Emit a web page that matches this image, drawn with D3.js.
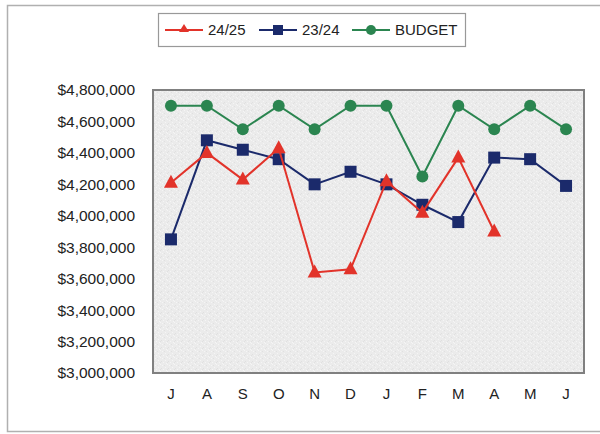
<!DOCTYPE html>
<html>
<head>
<meta charset="utf-8">
<script src="https://cdn.jsdelivr.net/npm/d3@7"></script>
<style>
  body { margin: 0; background: #fff; }
  svg { display: block; font-family: "Liberation Sans", Arial, sans-serif; }
</style>
</head>
<body>
<svg id="chart" width="600" height="434"></svg>
<script>
// data
const months = ["J","A","S","O","N","D","J","F","M","A","M","J"];
const fy2425 = [4210000, 4400000, 4230000, 4430000, 3640000, 3660000, 4220000, 4020000, 4370000, 3900000];
const fy2324 = [3850000, 4480000, 4420000, 4360000, 4200000, 4280000, 4200000, 4070000, 3960000, 4370000, 4360000, 4190000];
const budget = [4700000, 4700000, 4550000, 4700000, 4550000, 4700000, 4700000, 4250000, 4700000, 4550000, 4700000, 4550000];
const yTicks = [3000000, 3200000, 3400000, 3600000, 3800000, 4000000, 4200000, 4400000, 4600000, 4800000];

const series = [
  { name: "24/25", values: fy2425, color: "#e2332a", shape: "tri" },
  { name: "23/24", values: fy2324, color: "#1b2a6b", shape: "sq" },
  { name: "BUDGET", values: budget, color: "#2b8550", shape: "dot" }
];

const svg = d3.select("#chart");
const plot = { left: 153, right: 584, top: 90, bottom: 373 };

// outer frame
svg.append("path")
  .attr("d", "M607,5.5 H7.5 V431.5 H607")
  .attr("fill", "none").attr("stroke", "#b0b0b0").attr("stroke-width", 1.5);

// speckled plot background
const defs = svg.append("defs");
const pat = defs.append("pattern").attr("id", "speck").attr("width", 7).attr("height", 7).attr("patternUnits", "userSpaceOnUse");
pat.append("rect").attr("width", 7).attr("height", 7).attr("fill", "#ebebeb");
[[1,1],[4,3],[2,5],[6,0],[5,6]].forEach(p => pat.append("rect").attr("x", p[0]).attr("y", p[1]).attr("width", 1).attr("height", 1).attr("fill", "#f5f5f5"));
[[3,1],[0,4],[6,5]].forEach(p => pat.append("rect").attr("x", p[0]).attr("y", p[1]).attr("width", 1).attr("height", 1).attr("fill", "#e0e0e0"));

svg.append("rect")
  .attr("x", plot.left).attr("y", plot.top)
  .attr("width", plot.right - plot.left).attr("height", plot.bottom - plot.top)
  .attr("fill", "url(#speck)").attr("stroke", "#808080").attr("stroke-width", 2);

const x = d3.scaleBand().domain(d3.range(months.length)).range([plot.left, plot.right]);
const y = d3.scaleLinear().domain([3000000, 4800000]).range([plot.bottom, plot.top]);
const cx = i => x(i) + x.bandwidth() / 2;

// y axis labels
const fmt = d3.format("$,");
const yAxis = svg.append("g").attr("transform", `translate(${plot.left},0)`)
  .call(d3.axisLeft(y).tickValues(yTicks).tickFormat(fmt).tickSize(0).tickPadding(18));
yAxis.select(".domain").remove();
yAxis.selectAll("text").attr("font-size", 15.5).attr("fill", "#222").attr("font-family", "Liberation Sans, Arial, sans-serif");

// x axis labels
const xAxis = svg.append("g").attr("transform", `translate(0,${plot.bottom})`)
  .call(d3.axisBottom(x).tickFormat(i => months[i]).tickSize(0).tickPadding(15));
xAxis.select(".domain").remove();
xAxis.selectAll("text").attr("font-size", 15).attr("fill", "#222").attr("font-family", "Liberation Sans, Arial, sans-serif");

const line = d3.line().x((d, i) => cx(i)).y(d => y(d));

function marker(g, shape, color, px, py) {
  if (shape === "tri") {
    g.append("path").attr("d", `M${px},${py - 8} L${px + 7},${py + 5} L${px - 7},${py + 5} Z`).attr("fill", color);
  } else if (shape === "sq") {
    g.append("rect").attr("x", px - 6).attr("y", py - 6).attr("width", 12).attr("height", 12).attr("fill", color);
  } else {
    g.append("circle").attr("cx", px).attr("cy", py).attr("r", 6).attr("fill", color);
  }
}

// draw budget first, then 23/24, then 24/25 on top
[series[2], series[1], series[0]].forEach(s => {
  const g = svg.append("g");
  g.append("path").datum(s.values).attr("d", line)
    .attr("fill", "none").attr("stroke", s.color).attr("stroke-width", 2);
  s.values.forEach((v, i) => marker(g, s.shape, s.color, cx(i), y(v)));
});

// legend
const lg = svg.append("g");
lg.append("rect").attr("x", 158.5).attr("y", 13.5).attr("width", 307).attr("height", 33)
  .attr("fill", "#fff").attr("stroke", "#999").attr("stroke-width", 1.2);
const lx = [165, 259, 352];
series.forEach((s, k) => {
  const g = lg.append("g");
  g.append("line").attr("x1", lx[k]).attr("x2", lx[k] + 38).attr("y1", 30).attr("y2", 30)
    .attr("stroke", s.color).attr("stroke-width", 2);
  if (s.shape === "tri") g.append("path").attr("d", `M${lx[k] + 19},24 L${lx[k] + 24},32 L${lx[k] + 14},32 Z`).attr("fill", s.color);
  else if (s.shape === "sq") g.append("rect").attr("x", lx[k] + 14).attr("y", 25).attr("width", 10).attr("height", 10).attr("fill", s.color);
  else g.append("circle").attr("cx", lx[k] + 19).attr("cy", 30).attr("r", 5).attr("fill", s.color);
  g.append("text").attr("x", lx[k] + 43).attr("y", 35).attr("font-size", 15).attr("fill", "#222").text(s.name);
});
</script>
</body>
</html>
